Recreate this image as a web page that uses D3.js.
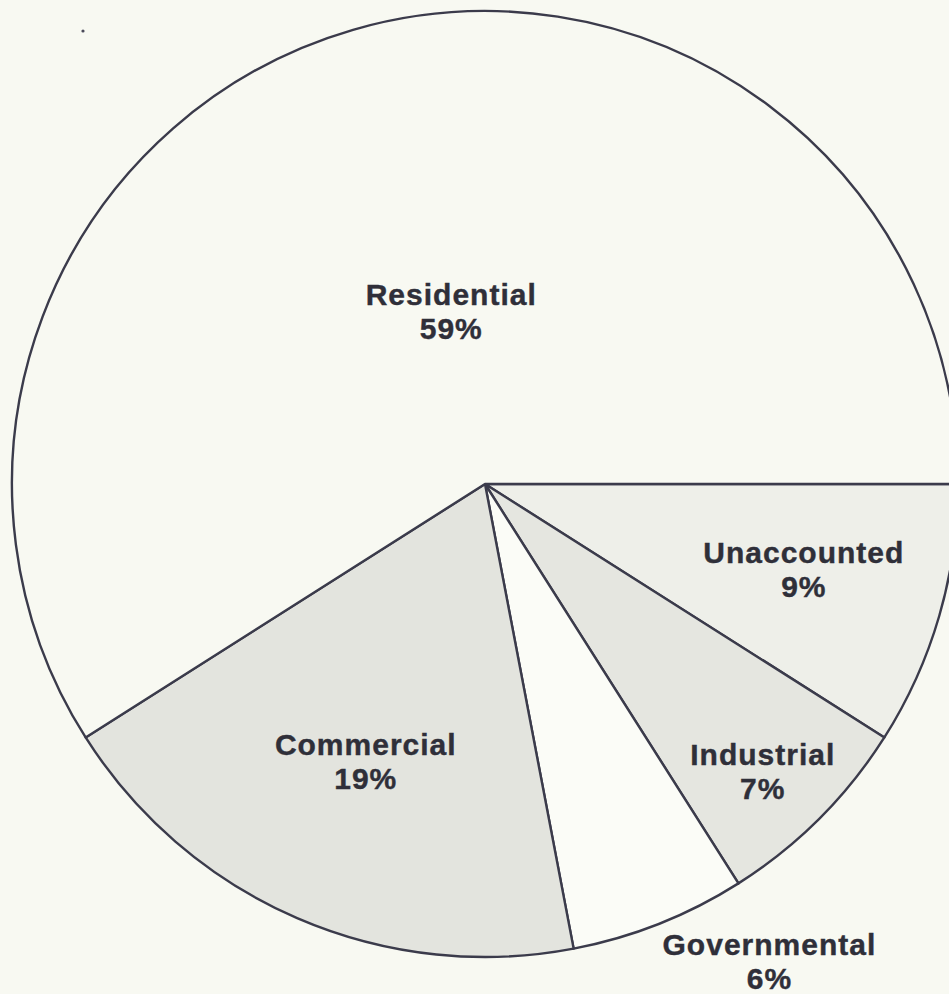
<!DOCTYPE html>
<html>
<head>
<meta charset="utf-8">
<script src="https://cdn.jsdelivr.net/npm/d3@7"></script>
<style>
  html, body { margin: 0; padding: 0; background: #f8f9f2; overflow: hidden; }
  svg { display: block; }
</style>
</head>
<body>
<svg id="chart" width="949" height="994"></svg>
<script>
// Data (clockwise from 3 o'clock)
const categories = ["Unaccounted", "Industrial", "Governmental", "Commercial", "Residential"];
const percents = [9, 7, 6, 19, 59];
const percentLabels = ["9%", "7%", "6%", "19%", "59%"];

// Styling / layout
const fills = ["#eeefe9", "#e5e6e0", "#fbfcf7", "#e3e4de", "#f8f9f2"];
const labelRadius = [332, 405, 562, 309, 168];
const labelAngleNudge = [0, 1.7, -8.8, -0.7, 4.6]; // degrees
const W = 949, H = 994;
const cx = 485, cy = 484, R = 473;

const svg = d3.select("#chart");
svg.append("rect").attr("width", W).attr("height", H).attr("fill", "#f8f9f2");

const data = categories.map((c, i) => ({ name: c, value: percents[i], label: percentLabels[i], fill: fills[i], lr: labelRadius[i], nudge: labelAngleNudge[i] }));

const pie = d3.pie().sort(null).value(d => d.value)
  .startAngle(Math.PI / 2).endAngle(Math.PI / 2 + 2 * Math.PI);
const arcs = pie(data);
const arc = d3.arc().innerRadius(0).outerRadius(R);

const g = svg.append("g").attr("transform", `translate(${cx},${cy})`);

g.selectAll("path.slice").data(arcs).join("path")
  .attr("class", "slice")
  .attr("d", arc)
  .attr("fill", d => d.data.fill)
  .attr("stroke", "#3b3b4b")
  .attr("stroke-width", 2.4)
  .attr("stroke-linejoin", "round");

const labels = g.selectAll("g.lab").data(arcs).join("g")
  .attr("class", "lab")
  .attr("transform", d => {
    const a = (d.startAngle + d.endAngle) / 2 + d.data.nudge * Math.PI / 180;
    const x = Math.sin(a) * d.data.lr;
    const y = -Math.cos(a) * d.data.lr;
    return `translate(${x},${y})`;
  });

function styleText(sel) {
  sel.attr("text-anchor", "middle")
    .attr("font-family", "'Liberation Sans', Arial, Helvetica, sans-serif")
    .attr("font-weight", "bold")
    .attr("font-size", 30)
    .attr("letter-spacing", 1)
    .attr("fill", "#2f2f39")
    .attr("stroke", "#2f2f39")
    .attr("stroke-width", 0.4);
}

labels.append("text").attr("y", -14).call(styleText).text(d => d.data.name);
labels.append("text").attr("y", 20).call(styleText).text(d => d.data.label);

// small speck in the scan
svg.append("circle").attr("cx", 83).attr("cy", 31).attr("r", 1.6).attr("fill", "#4a4a5a");
</script>
</body>
</html>
